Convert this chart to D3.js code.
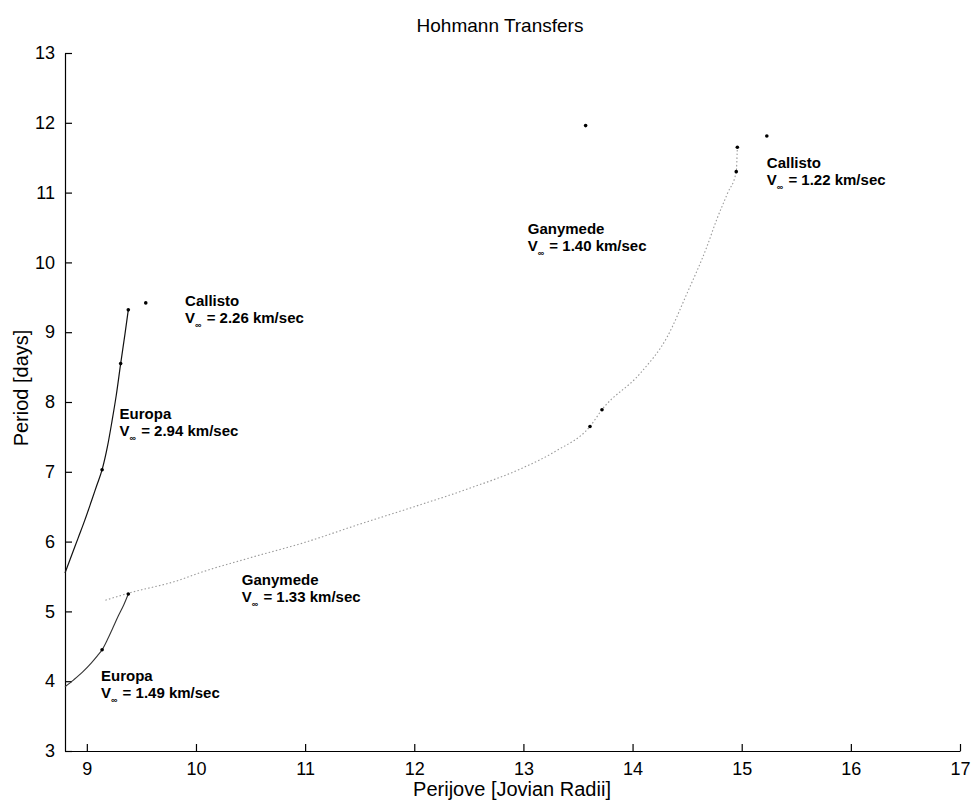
<!DOCTYPE html>
<html>
<head>
<meta charset="utf-8">
<script src="https://cdn.jsdelivr.net/npm/d3@7"></script>
<style>
  html, body { margin: 0; padding: 0; background: #fff; }
  svg { display: block; font-family: "Liberation Sans", Arial, Helvetica, sans-serif; }
</style>
</head>
<body>
<svg id="chart" width="973" height="802"></svg>
<script>
// ---- data ----
const xTicks = [9, 10, 11, 12, 13, 14, 15, 16, 17];
const yTicks = [3, 4, 5, 6, 7, 8, 9, 10, 11, 12, 13];

// Europa (2.94 km/s) -> Callisto (2.26 km/s)
const curveA_x = [8.80, 8.86, 8.92, 8.98, 9.04, 9.09, 9.14, 9.19, 9.23, 9.27, 9.31, 9.35, 9.38];
const curveA_y = [5.55, 5.80, 6.05, 6.30, 6.57, 6.80, 7.03, 7.37, 7.72, 8.10, 8.55, 8.98, 9.32];

// Europa (1.49 km/s) -> Ganymede (1.33 km/s)
const curveB_x = [8.80, 8.88, 8.96, 9.04, 9.10, 9.14, 9.19, 9.24, 9.29, 9.34, 9.38];
const curveB_y = [3.92, 4.02, 4.13, 4.26, 4.37, 4.45, 4.60, 4.77, 4.94, 5.10, 5.25];

// Ganymede (1.40 km/s) -> Callisto (1.22 km/s), grey dotted
const curveC_x = [9.17, 9.38, 9.85, 10.01, 10.50, 11.00, 11.50, 12.00, 12.50, 13.00, 13.30, 13.61, 13.72, 14.07, 14.32, 14.50, 14.68, 14.77, 14.87, 14.95, 14.96];
const curveC_y = [5.16, 5.26, 5.45, 5.54, 5.77, 5.99, 6.25, 6.50, 6.76, 7.06, 7.30, 7.65, 7.89, 8.41, 8.94, 9.56, 10.22, 10.61, 10.99, 11.30, 11.65];

// marker points
const markers_x = [9.14, 9.31, 9.38, 9.14, 9.38, 13.61, 13.72, 14.95, 14.96, 9.54, 13.57, 15.23];
const markers_y = [7.03, 8.55, 9.32, 4.45, 5.25, 7.65, 7.89, 11.30, 11.65, 9.42, 11.96, 11.81];

// annotations
const labelMoons  = ["Callisto", "Europa", "Ganymede", "Europa", "Ganymede", "Callisto"];
const labelSpeeds = ["2.26", "2.94", "1.33", "1.49", "1.40", "1.22"];
const labelX = [9.90, 9.30, 10.42, 9.13, 13.04, 15.23];
const labelY = [9.37, 7.75, 5.38, 4.00, 10.41, 11.35];

// ---- drawing ----
const svg = d3.select("#chart");
const x = d3.scaleLinear().domain([8.8, 17]).range([65, 960]);
const y = d3.scaleLinear().domain([3, 13]).range([751, 53]);

const font = '"Liberation Sans", Arial, Helvetica, sans-serif';

// axes
const gx = svg.append("g").attr("transform", `translate(0,${y(3)})`)
  .call(d3.axisBottom(x).tickValues(xTicks).tickSizeInner(-7).tickSizeOuter(0).tickPadding(11).tickFormat(d3.format("d")));
const gy = svg.append("g").attr("transform", `translate(${x(8.8)},0)`)
  .call(d3.axisLeft(y).tickValues(yTicks).tickSizeInner(-7).tickSizeOuter(0).tickPadding(10).tickFormat(d3.format("d")));
[gx, gy].forEach(g => {
  g.select(".domain").attr("stroke", "#000").attr("stroke-width", 1.2);
  g.selectAll(".tick line").attr("stroke", "#000").attr("stroke-width", 1.2);
  g.selectAll(".tick text").attr("fill", "#000").style("font-size", "18px").style("font-family", font);
});

// title & axis labels
svg.append("text").attr("x", 500).attr("y", 32).attr("text-anchor", "middle")
  .style("font-size", "19px").text("Hohmann Transfers");
svg.append("text").attr("x", 512).attr("y", 796).attr("text-anchor", "middle")
  .style("font-size", "20px").text("Perijove [Jovian Radii]");
svg.append("text").attr("transform", "translate(28,388) rotate(-90)").attr("text-anchor", "middle")
  .style("font-size", "20px").text("Period [days]");

const lineGen = d3.line().x(d => x(d[0])).y(d => y(d[1])).curve(d3.curveMonotoneX);

const A = curveA_x.map((v, i) => [v, curveA_y[i]]);
const B = curveB_x.map((v, i) => [v, curveB_y[i]]);
const C = curveC_x.map((v, i) => [v, curveC_y[i]]);

svg.append("path").datum(C).attr("fill", "none").attr("stroke", "#9a9a9a")
  .attr("stroke-width", 1.1).attr("stroke-dasharray", "1.5,2.2").attr("d", lineGen);
svg.append("path").datum(A).attr("fill", "none").attr("stroke", "#111").attr("stroke-width", 1.2).attr("d", lineGen);
svg.append("path").datum(B).attr("fill", "none").attr("stroke", "#333").attr("stroke-width", 1.1).attr("d", lineGen);

svg.append("g").selectAll("circle").data(markers_x.map((v, i) => [v, markers_y[i]]))
  .join("circle").attr("cx", d => x(d[0])).attr("cy", d => y(d[1])).attr("r", 1.8).attr("fill", "#000");

// annotations
const ann = svg.append("g").style("font-size", "15px").style("font-weight", "bold").attr("fill", "#000");
labelMoons.forEach((m, i) => {
  const px = x(labelX[i]), py = y(labelY[i]);
  ann.append("text").attr("x", px).attr("y", py).text(m);
  const t = ann.append("text").attr("x", px).attr("y", py + 17);
  t.append("tspan").text("V");
  t.append("tspan").attr("dy", 5).style("font-size", "9px").text("∞");
  t.append("tspan").attr("dy", -5).attr("dx", 1).text(" = " + labelSpeeds[i] + " km/sec");
});
</script>
</body>
</html>
